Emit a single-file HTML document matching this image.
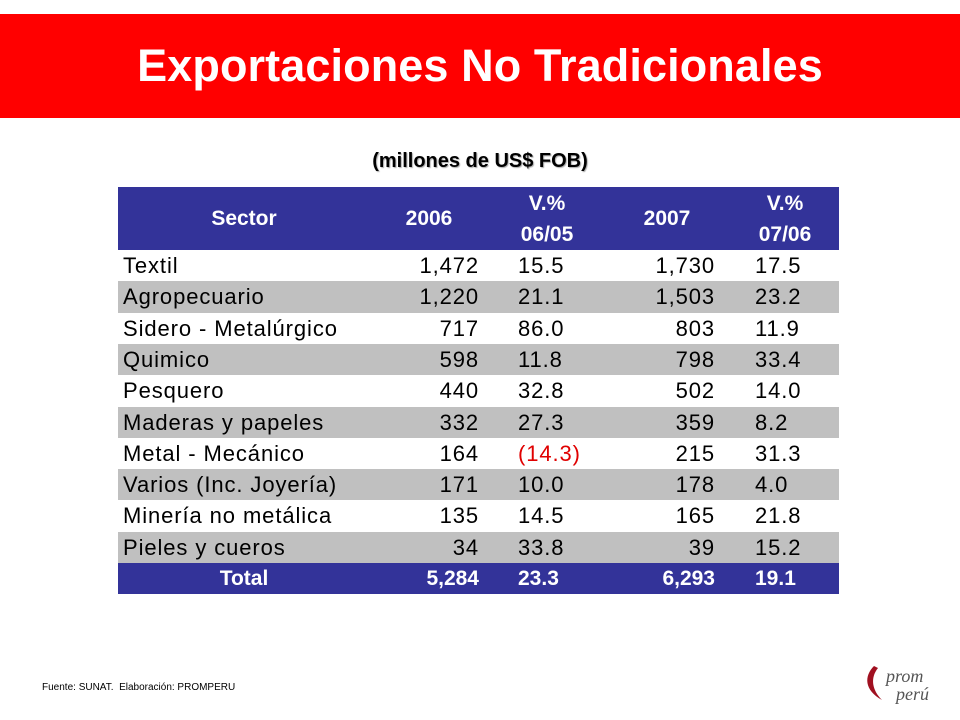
<!DOCTYPE html>
<html><head><meta charset="utf-8"><style>
body{margin:0;width:960px;height:720px;background:#fff;position:relative;overflow:hidden;font-family:"Liberation Sans",sans-serif}
.band{position:absolute;left:0;top:14px;width:960px;height:104px;background:#ff0000}
.title{position:absolute;left:0;top:14px;width:960px;height:104px;line-height:104px;text-align:center;color:#fff;font-weight:bold;font-size:45px;letter-spacing:0.1px}
.sub{position:absolute;left:0;top:150px;width:960px;text-align:center;font-weight:bold;font-size:20px;color:#000;text-shadow:1px 1px 1px #aaa}
.hdr{position:absolute;left:118px;top:187px;width:721px;height:63px;background:#333399}
.h{position:absolute;color:#fff;font-weight:bold;font-size:21px;text-align:center;width:120px;line-height:31px}
.row{position:absolute;left:118px;width:721px;height:31.3px}
.c{position:absolute;top:0;line-height:31.3px;font-size:22px;letter-spacing:0.9px;color:#000;white-space:nowrap}
.foot{position:absolute;left:42px;top:682px;font-size:10px;color:#000}
</style></head><body>
<div class="band"></div>
<div class="title">Exportaciones No Tradicionales</div>
<div class="sub">(millones de US$ FOB)</div>
<div class="hdr">
<div class="h" style="left:66px;top:16px">Sector</div>
<div class="h" style="left:251px;top:16px">2006</div>
<div class="h" style="left:369px;top:1px">V.%<br>06/05</div>
<div class="h" style="left:489px;top:16px">2007</div>
<div class="h" style="left:607px;top:1px">V.%<br>07/06</div>
</div>
<div id="rows"></div>
<div class="foot">Fuente: SUNAT.&nbsp; Elaboración: PROMPERU</div>
<svg style="position:absolute;left:860px;top:660px" width="90" height="50">
<path d="M14 6 C4 16 4 30 22 40 C12 30 10 18 18 8 Z" fill="#a01020"/>
<text x="26" y="22" font-family="Liberation Serif" font-style="italic" font-size="18" fill="#555">prom</text>
<text x="36" y="40" font-family="Liberation Serif" font-style="italic" font-size="18" fill="#555">perú</text>
</svg>
<script>
const sectors=["Textil","Agropecuario","Sidero - Metalúrgico","Quimico","Pesquero","Maderas y papeles","Metal - Mecánico","Varios (Inc. Joyería)","Minería no metálica","Pieles y cueros"];
const v2006=["1,472","1,220","717","598","440","332","164","171","135","34"];
const var0605=["15.5","21.1","86.0","11.8","32.8","27.3","(14.3)","10.0","14.5","33.8"];
const v2007=["1,730","1,503","803","798","502","359","215","178","165","39"];
const var0706=["17.5","23.2","11.9","33.4","14.0","8.2","31.3","4.0","21.8","15.2"];
const total=["Total","5,284","23.3","6,293","19.1"];
const host=document.getElementById('rows');
function cell(row,txt,style,bold,color){
 const d=document.createElement('div');d.className='c';d.textContent=txt;d.style.cssText=style;
 if(bold)d.style.fontWeight='bold';if(color)d.style.color=color;
 
 
 row.appendChild(d);
}
function addRow(vals,i,isTotal){
 const r=document.createElement('div');r.className='row';
 r.style.top=(250+i*31.3)+'px';
 r.style.background=isTotal?'#333399':(i%2==1?'#c0c0c0':'#fff');
 
 
 const col=isTotal?'#fff':null;
 const ts=isTotal?';font-size:21px;letter-spacing:0':'';
 if(isTotal)cell(r,vals[0],'left:66px;width:120px;text-align:center'+ts,true,col);
 else cell(r,vals[0],'left:5px');
 cell(r,vals[1],'right:360px'+ts,isTotal,col);
 cell(r,vals[2],'left:400px'+ts,isTotal,col||(vals[2].startsWith('(')?'#e00000':null));
 cell(r,vals[3],'right:124px'+ts,isTotal,col);
 cell(r,vals[4],'left:637px'+ts,isTotal,col);
 host.appendChild(r);
}
sectors.forEach((s,i)=>addRow([s,v2006[i],var0605[i],v2007[i],var0706[i]],i,false));
addRow(total,10,true);
</script>
</body></html>
